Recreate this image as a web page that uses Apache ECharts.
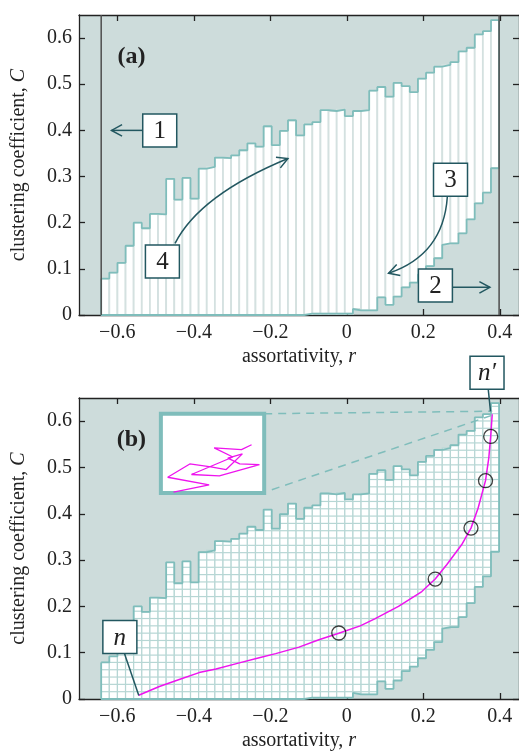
<!DOCTYPE html>
<html>
<head>
<meta charset="utf-8">
<title>clustering vs assortativity</title>
<script src="https://cdn.jsdelivr.net/npm/echarts@6/dist/echarts.min.js"></script>
<style>
  html, body { margin: 0; padding: 0; background: #fff; }
  #main { width: 519px; height: 754px; }
</style>
</head>
<body>
<div id="main"></div>
<script>
// r bins (same envelope in both panels)
var binStart = -0.642;
var binEnd = 0.398;
var upperC = [0.079, 0.092, 0.113, 0.150, 0.200, 0.188, 0.219, 0.218, 0.295, 0.250,
              0.297, 0.252, 0.317, 0.321, 0.341, 0.340, 0.346, 0.357, 0.372, 0.365,
              0.409, 0.368, 0.399, 0.422, 0.389, 0.413, 0.418, 0.444, 0.442, 0.445,
              0.431, 0.442, 0.444, 0.486, 0.494, 0.473, 0.503, 0.496, 0.483, 0.512,
              0.525, 0.538, 0.542, 0.548, 0.571, 0.579, 0.608, 0.615, 0.639];
var lowerC = [0, 0, 0, 0, 0, 0, 0, 0, 0, 0,
              0, 0, 0, 0, 0, 0, 0, 0, 0, 0,
              0, 0, 0, 0, 0, 0, 0.003, 0.003, 0.003, 0.003,
              0.003, 0.013, 0.010, 0.010, 0.038, 0.022, 0.040, 0.060, 0.070, 0.088,
              0.106, 0.123, 0.152, 0.155, 0.177, 0.207, 0.242, 0.265, 0.318];
var guideR = [-0.642, 0.398];   // lines 1 and 2 in (a)
var cellH = 0.0158;             // row height of the grid in (b)

var xTicks = [-0.6, -0.4, -0.2, 0, 0.2, 0.4];
var yTicks = [0, 0.1, 0.2, 0.3, 0.4, 0.5, 0.6];

// path n -> n'
var pathR = [-0.544, -0.490, -0.438, -0.386, -0.342, -0.281, -0.229, -0.186, -0.125, -0.073,
             -0.021, 0.035, 0.073, 0.135, 0.196, 0.231, 0.261, 0.300, 0.3245, 0.343,
             0.3625, 0.371, 0.376, 0.380];
var pathC = [0.008, 0.027, 0.042, 0.057, 0.065, 0.078, 0.089, 0.098, 0.112, 0.128,
             0.142, 0.158, 0.173, 0.200, 0.232, 0.259, 0.290, 0.333, 0.369, 0.412,
             0.4715, 0.520, 0.567, 0.615];
// circled points on the path
var markR = [-0.021, 0.231, 0.3245, 0.3625, 0.376];
var markC = [0.1425, 0.259, 0.369, 0.4715, 0.567];

// zoomed end of the path (inset, unit box)
var insetU = [0.122, 0.467, 0.066, 0.280, 0.484, 0.632, 0.789, 0.648, 0.763, 0.954,
              0.566, 0.296, 0.697, 0.516, 0.780, 0.878];
var insetV = [0.01, 0.101, 0.198, 0.366, 0.330, 0.295, 0.493, 0.440, 0.366, 0.357,
              0.216, 0.233, 0.454, 0.568, 0.546, 0.608];

var FONT = '"Liberation Serif", "Times New Roman", serif';
var bg = '#cddcdb';
var teal = '#7fbdbb';
var dark = '#225760';
var ink = '#222';

var chart = echarts.init(document.getElementById('main'));

var binW = (binEnd - binStart) / upperC.length;
var bins = upperC.map(function (u, i) {
	return [binStart + i * binW, binStart + (i + 1) * binW, lowerC[i], u];
});

// closed outline of the white region
var outline = [];
bins.forEach(function (b) {
	outline.push([b[0], b[3]], [b[1], b[3]]);
});
for (var i = bins.length - 1; i >= 0; i--) {
	outline.push([bins[i][1], bins[i][2]], [bins[i][0], bins[i][2]]);
}
outline.push(outline[0]);

function binShape(rows) {
	return function (params, api) {
		var x0 = api.value(0), x1 = api.value(1), lo = api.value(2), hi = api.value(3);
		var a = api.coord([x0, lo]), b = api.coord([x1, hi]);
		var kids = [{
			type: 'rect',
			shape: {x: a[0], y: b[1], width: b[0] - a[0], height: a[1] - b[1]},
			style: {fill: '#fff', stroke: rows ? '#b6d6d4' : '#d4e1e0', lineWidth: rows ? 1.2 : 1.8}
		}];
		if (rows) {
			for (var k = Math.ceil(lo / cellH); k * cellH < hi; k++) {
				var y = api.coord([x0, k * cellH])[1];
				kids.push({
					type: 'line',
					shape: {x1: a[0], y1: y, x2: b[0], y2: y},
					style: {stroke: '#b6d6d4', lineWidth: 1.2}
				});
			}
		}
		return {type: 'group', children: kids};
	};
}

function fmt(v) {
	return String(+(+v).toFixed(1)).replace('-', '\u2212');
}

var lineStyle = {color: ink, width: 1.3};
var labelStyle = {fontFamily: FONT, fontSize: 20, color: ink};
var nameStyle = {
	fontFamily: FONT, fontSize: 20, color: ink,
	rich: {i: {fontFamily: FONT, fontSize: 20, color: ink, fontStyle: 'italic'}}
};

function xPair(g) {
	var base = {
		gridIndex: g, type: 'value', min: -0.7, max: 0.45,
		axisLine: {onZero: false, lineStyle: lineStyle},
		axisTick: {inside: true, length: 6, customValues: xTicks, lineStyle: lineStyle},
		splitLine: {show: false}
	};
	return [
		Object.assign({}, base, {
			position: 'bottom',
			name: 'assortativity, {i|r}', nameLocation: 'middle', nameGap: 32, nameTextStyle: nameStyle,
			axisLabel: {customValues: xTicks, formatter: fmt, margin: 8, textStyle: labelStyle}
		}),
		Object.assign({}, base, {position: 'top', axisLabel: {show: false}})
	];
}

function yPair(g) {
	var base = {
		gridIndex: g, type: 'value', min: 0, max: 0.65,
		axisLine: {onZero: false, lineStyle: lineStyle},
		axisTick: {inside: true, length: 6, customValues: yTicks, lineStyle: lineStyle},
		splitLine: {show: false}
	};
	return [
		Object.assign({}, base, {
			position: 'left',
			name: 'clustering coefficient, {i|C}', nameLocation: 'middle', nameGap: 50, nameTextStyle: nameStyle,
			axisLabel: {customValues: yTicks, formatter: fmt, margin: 7, textStyle: labelStyle}
		}),
		Object.assign({}, base, {position: 'right', axisLabel: {show: false}})
	];
}

var option = {
	animation: false,
	backgroundColor: '#fff',
	grid: [
		{left: 79, top: 15, width: 441.6, height: 300, show: true, backgroundColor: bg, borderWidth: 0},
		{left: 79, top: 398, width: 441.6, height: 301, show: true, backgroundColor: bg, borderWidth: 0},
		{left: 0, top: 0, width: 10, height: 10, show: true, backgroundColor: '#fff', borderColor: teal, borderWidth: 4}
	],
	xAxis: xPair(0).concat(xPair(1), [{gridIndex: 2, type: 'value', min: 0, max: 1, show: false}]),
	yAxis: yPair(0).concat(yPair(1), [{gridIndex: 2, type: 'value', min: 0, max: 1, show: false}]),
	series: [
		// (a)
		{type: 'custom', xAxisIndex: 0, yAxisIndex: 0, renderItem: binShape(false), data: bins,
			encode: {x: [0, 1], y: [2, 3]}, clip: true, z: 1},
		{type: 'line', xAxisIndex: 0, yAxisIndex: 0, data: outline, showSymbol: false,
			lineStyle: {color: teal, width: 1.8}, z: 2},
		{type: 'line', xAxisIndex: 0, yAxisIndex: 0, data: [[guideR[0], 0], [guideR[0], 0.65]], showSymbol: false,
			lineStyle: {color: '#4d4d4d', width: 1.5}, z: 3},
		{type: 'line', xAxisIndex: 0, yAxisIndex: 0, data: [[guideR[1], 0], [guideR[1], 0.65]], showSymbol: false,
			lineStyle: {color: '#4d4d4d', width: 1.5}, z: 3},
		// (b)
		{type: 'custom', xAxisIndex: 2, yAxisIndex: 2, renderItem: binShape(true), data: bins,
			encode: {x: [0, 1], y: [2, 3]}, clip: true, z: 1},
		{type: 'line', xAxisIndex: 2, yAxisIndex: 2, data: outline, showSymbol: false,
			lineStyle: {color: teal, width: 1.8}, z: 2},
		{type: 'line', xAxisIndex: 2, yAxisIndex: 2, showSymbol: false,
			data: pathR.map(function (r, i) { return [r, pathC[i]]; }),
			lineStyle: {color: '#ee14ee', width: 1.5}, z: 4},
		{type: 'scatter', xAxisIndex: 2, yAxisIndex: 2, symbolSize: 14,
			data: markR.map(function (r, i) { return [r, markC[i]]; }),
			itemStyle: {color: 'rgba(0,0,0,0)', borderColor: '#111', borderWidth: 1.3}, z: 5},
		// inset
		{type: 'line', xAxisIndex: 4, yAxisIndex: 4, showSymbol: false,
			data: insetU.map(function (u, i) { return [u, insetV[i]]; }),
			lineStyle: {color: '#ee14ee', width: 1.3}, z: 4}
	]
};
chart.setOption(option);

// annotations, placed in data coordinates
var insetBox = {r0: -0.486, r1: -0.216, c0: 0.445, c1: 0.616};
var notes = [
	{g: 0, r: -0.489, c: 0.400, text: '1', from: [-0.534, 0.400], to: [-0.615, 0.400]},
	{g: 0, r: 0.2315, c: 0.064, text: '2', from: [0.2758, 0.060], to: [0.374, 0.060]},
	{g: 0, r: 0.271, c: 0.293, text: '3', from: [0.2627, 0.2561], ctrl: [0.2523, 0.130], to: [0.109, 0.0903]},
	{g: 0, r: -0.482, c: 0.116, text: '4', from: [-0.449, 0.155], ctrl: [-0.385, 0.2597], to: [-0.154, 0.339]},
	{g: 1, r: -0.5932, c: 0.134, text: 'n', italic: true, from: [-0.581, 0.0978], to: [-0.5437, 0.0078], plain: true},
	{g: 1, r: 0.3664, c: 0.7047, text: 'n\u2032', italic: true, from: [0.3695, 0.670], to: [0.3755, 0.621], plain: true}
];

function P(g, v) {
	return chart.convertToPixel({gridIndex: g}, v);
}

var graphics = [];

function head(tip, from) {
	var a = Math.atan2(tip[1] - from[1], tip[0] - from[0]);
	var L = 12, s = 0.5;
	return {
		type: 'polyline', z: 20,
		shape: {points: [
			[tip[0] - L * Math.cos(a - s), tip[1] - L * Math.sin(a - s)],
			tip,
			[tip[0] - L * Math.cos(a + s), tip[1] - L * Math.sin(a + s)]
		]},
		style: {stroke: dark, lineWidth: 1.5, fill: 'none'}
	};
}

notes.forEach(function (n) {
	var p = P(n.g, [n.r, n.c]);
	var a = P(n.g, n.from), b = P(n.g, n.to);
	if (n.ctrl) {
		var q = P(n.g, n.ctrl);
		graphics.push({type: 'bezierCurve', z: 20,
			shape: {x1: a[0], y1: a[1], x2: b[0], y2: b[1], cpx1: q[0], cpy1: q[1]},
			style: {stroke: dark, lineWidth: 1.5, fill: 'none'}});
		graphics.push(head(b, q));
	} else {
		graphics.push({type: 'line', z: 20,
			shape: {x1: a[0], y1: a[1], x2: b[0], y2: b[1]},
			style: {stroke: dark, lineWidth: 1.5}});
		if (!n.plain) graphics.push(head(b, a));
	}
	graphics.push({type: 'rect', z: 21,
		shape: {x: p[0] - 17, y: p[1] - 16.5, width: 34, height: 33},
		style: {fill: '#fff', stroke: dark, lineWidth: 1.5}});
	graphics.push({type: 'text', z: 22, x: p[0], y: p[1] + 1,
		style: {text: n.text, font: (n.italic ? 'italic ' : '') + '25px ' + FONT, fill: ink,
			textAlign: 'center', textVerticalAlign: 'middle', align: 'center', verticalAlign: 'middle'}});
});

// panel letters
[['(a)', 0], ['(b)', 1]].forEach(function (t) {
	var p = P(t[1], [-0.563, 0.56]);
	graphics.push({type: 'text', z: 22, x: p[0], y: p[1],
		style: {text: t[0], font: 'bold 24px ' + FONT, fill: ink,
			textAlign: 'center', textVerticalAlign: 'middle', align: 'center', verticalAlign: 'middle'}});
});

// dashed guides from the inset to the end of the path
var tl = P(1, [insetBox.r1, insetBox.c1]);
var bl = P(1, [insetBox.r1 + 0.02, insetBox.c0 + 0.007]);
var end = P(1, [pathR[pathR.length - 1], pathC[pathC.length - 1]]);
[[tl, [end[0], end[1] - 3]], [bl, [end[0], end[1] + 1]]].forEach(function (s) {
	graphics.push({type: 'line', z: 19,
		shape: {x1: s[0][0], y1: s[0][1], x2: s[1][0], y2: s[1][1]},
		style: {stroke: teal, lineWidth: 1.5, lineDash: [8, 6]}});
});

var c0 = P(1, [insetBox.r0, insetBox.c1]);
var c1 = P(1, [insetBox.r1, insetBox.c0]);
chart.setOption({
	grid: [{}, {}, {left: c0[0], top: c0[1], width: c1[0] - c0[0], height: c1[1] - c0[1]}],
	graphic: graphics
});
</script>
</body>
</html>
